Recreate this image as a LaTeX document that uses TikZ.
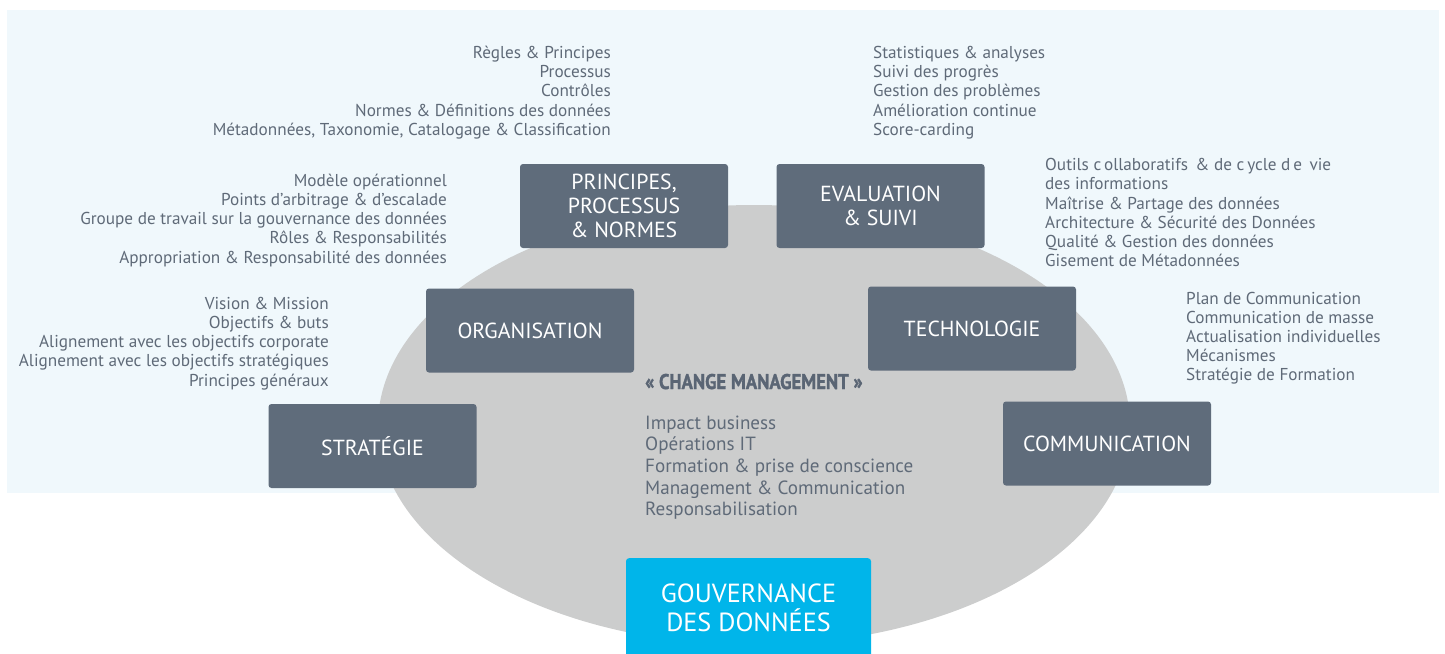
\documentclass[tikz,border=0pt]{standalone}
\usepackage{fontspec}
\setmainfont{PT Sans}
\usepackage{graphicx}
\definecolor{panelbg}{HTML}{F0F8FC}
\definecolor{discgray}{HTML}{CCCDCD}
\definecolor{slate}{HTML}{5F6C7B}
\definecolor{inktext}{HTML}{5F6A78}
\definecolor{headink}{HTML}{5A6574}
\definecolor{govcyan}{HTML}{00B5EA}
\tikzset{
  pillar/.style={fill=slate, rounded corners=3pt, minimum width=208pt, minimum height=84pt,
    inner sep=0pt, text=white, align=center, font=\fontsize{21.8}{24}\selectfont},
  itemR/.style={anchor=base east, inner sep=0pt, text=inktext, font=\fontsize{17.2}{19}\selectfont},
  itemL/.style={anchor=base west, inner sep=0pt, text=inktext, font=\fontsize{17.2}{19}\selectfont},
  changeitem/.style={anchor=base west, inner sep=0pt, text=inktext, font=\fontsize{19.1}{21}\selectfont},
}
\begin{document}
\begin{tikzpicture}[x=1pt,y=-1pt]
\useasboundingbox (0,0) rectangle (1445,653);
\begin{scope}
\clip (0,0) rectangle (1445,653);
% light backdrop panel
\fill[panelbg] (7,10) rectangle (1439,493);
% central grey disc
\fill[discgray] (754,425) ellipse [x radius=376pt, y radius=220pt];

% pillar boxes
\node[pillar] (princ) at (624,206) {PRINCIPES,\\PROCESSUS\\\& NORMES};
\node[pillar] (eval)  at (880.5,206) {EVALUATION\\\& SUIVI};
\node[pillar] (orga)  at (530,330.5) {ORGANISATION};
\node[pillar] (tech)  at (972,328.5) {TECHNOLOGIE};
\node[pillar] (strat) at (372.5,446) {STRATÉGIE};
\node[pillar] (comm)  at (1107,443.5) {COMMUNICATION};
\node[pillar, fill=govcyan, anchor=north, minimum height=0pt, inner xsep=0pt, inner ysep=26pt,
      minimum width=245pt, font=\fontsize{26.2}{29}\selectfont] (gouv) at (748.5,558)
      {GOUVERNANCE\\DES DONNÉES};
\end{scope}

% lists around the pillars
\foreach \t [count=\i] in {Règles \& Principes, Processus, Contrôles,
    Normes \& Définitions des données,
    {Métadonnées, Taxonomie, Catalogage \& Classification}}
  \node[itemR] (pp\i) at (611,58.2+19.3*\i-19.3) {\t};

\foreach \t [count=\i] in {Statistiques \& analyses, Suivi des progrès,
    Gestion des problèmes, Amélioration continue, Score-carding}
  \node[itemL] (ev\i) at (873,58.2+19.3*\i-19.3) {\t};

\foreach \t [count=\i] in {Modèle opérationnel, Points d’arbitrage \& d’escalade,
    Groupe de travail sur la gouvernance des données, Rôles \& Responsabilités,
    Appropriation \& Responsabilité des données}
  \node[itemR] (org\i) at (447,186+19.25*\i-19.25) {\t};

\foreach \t [count=\i] in {Vision \& Mission, Objectifs \& buts,
    Alignement avec les objectifs corporate,
    Alignement avec les objectifs stratégiques, Principes généraux}
  \node[itemR] (st\i) at (329,309+19.3*\i-19.3) {\t};

\foreach \t [count=\i] in {Outils c\,ollaboratifs \,\& de c\,ycle d\,e \,vie, des informations,
    Maîtrise \& Partage des données, Architecture \& Sécurité des Données,
    Qualité \& Gestion des données, Gisement de Métadonnées}
  \node[itemL] (te\i) at (1045,170.7+19.2*\i-19.2) {\t};

\foreach \t [count=\i] in {Plan de Communication, Communication de masse,
    Actualisation individuelles, Mécanismes, Stratégie de Formation}
  \node[itemL] (co\i) at (1186,304+19.2*\i-19.2) {\t};

% change management block: heavy condensed heading
\node[anchor=base west, inner sep=0pt, text=headink] (chg) at (645,389)
  {\scalebox{0.88}[1]{\fontsize{21.2}{21}\selectfont\bfseries\addfontfeature{FakeBold=1.6}« CHANGE MANAGEMENT »}};
\foreach \t [count=\i] in {Impact business, Opérations IT,
    Formation \& prise de conscience, Management \& Communication, Responsabilisation}
  \node[changeitem] (cm\i) at (645,429+21.7*\i-21.7) {\t};
\end{tikzpicture}
\end{document}
